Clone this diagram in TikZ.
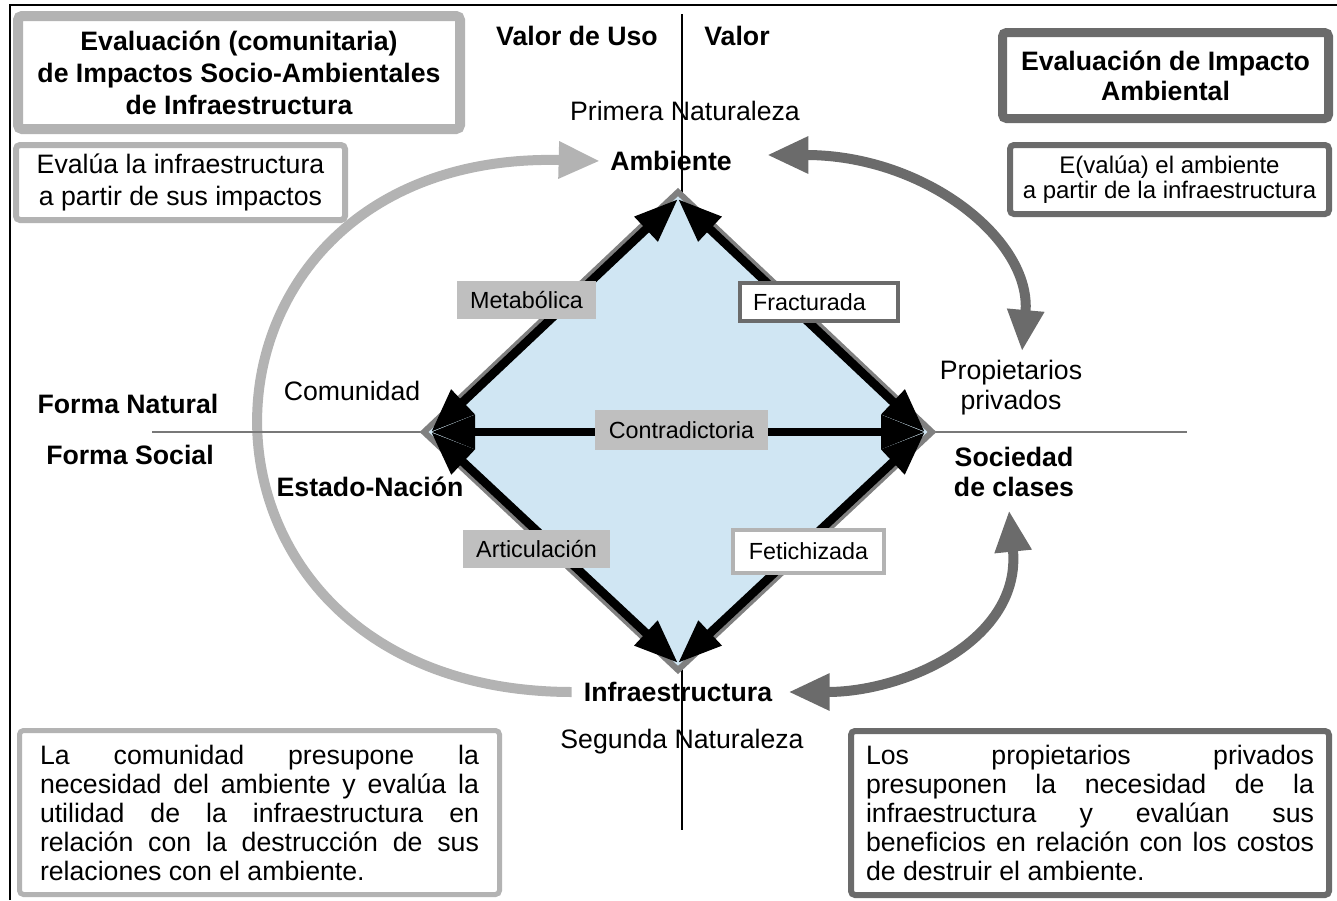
\documentclass[tikz,border=0pt]{standalone}
\usepackage{fontspec}
\setmainfont{Liberation Sans}
\usetikzlibrary{arrows.meta,calc}
\definecolor{lgray}{HTML}{B3B3B3}
\definecolor{dgray}{HTML}{6B6B6B}
\definecolor{lblgray}{HTML}{BFBFBF}
\definecolor{dfill}{HTML}{D0E6F3}
\definecolor{dborder}{HTML}{808080}
\definecolor{axgray}{HTML}{787878}
\hyphenpenalty=10000\relax
\hbadness=10000\relax
\begin{document}
\begin{tikzpicture}[x=0.75pt,y=-0.75pt,
  txt/.style={inner sep=0pt, align=center, font=\fontsize{20}{22.5}\selectfont},
  btxt/.style={inner sep=0pt, align=center, font=\fontsize{20}{23}\selectfont\bfseries},
  lbl/.style={inner sep=0pt, font=\fontsize{17.5}{20}\selectfont},
  glbl/.style={lbl, fill=lblgray},
  wlbl/.style={lbl, fill=white, line width=3pt},
  dblarrow/.style={line width=6.5pt, black, {Triangle[length=33pt,width=24pt]}-{Triangle[length=33pt,width=24pt]}},
  larc/.style={line width=7.5pt, lgray, -{Triangle[length=31pt,width=26pt]}},
  rarc/.style={line width=7.5pt, dgray, {Triangle[length=31pt,width=26pt]}-{Triangle[length=31pt,width=26pt]}},
  boxstyle/.style={rounded corners=3pt, fill=white, inner sep=0pt, align=center},
  justbox/.style={boxstyle, align=justify, font=\fontsize{20}{21.75}\selectfont}
]
\useasboundingbox (0,0) rectangle (1337,900);
% frame
\draw[line width=1.1pt] (10,900) -- (10,5) -- (1337,5);

% text nodes
\node[btxt] (valuso) at (577,36) {Valor de Uso};
\node[btxt] (valor) at (737,36) {Valor};
\node[txt] (primera) at (685,111) {Primera Naturaleza};
\node[btxt] (amb) at (671,161) {Ambiente};
\node[txt] (comun) at (352,391) {Comunidad};
\node[btxt] (fnat) at (128,404) {Forma Natural};
\node[btxt] (fsoc) at (130,455) {Forma Social};
\node[btxt] (estado) at (370,487) {Estado-Nación};
\node[txt] (prop) at (1011,388) {Propietarios\\privados};
\node[btxt] (soc) at (1014,472) {Sociedad\\de clases};
\node[btxt] (infra) at (678,692) {Infraestructura};
\node[txt] (segunda) at (682,742) {Segunda Naturaleza};

% curved arrows
\draw[larc] ($(infra.west)+(-12,0)$) .. controls (150,691) and (158,150) .. ($(amb.west)+(-10,0)$);
\draw[rarc] ($(amb.east)+(35,-6)$) .. controls (925,155) and (1032,240) .. ($(prop.north)+(11,-9)$);
\draw[rarc] ($(soc.south)+(-5,13)$) .. controls (1022,640) and (905,692) .. ($(infra.east)+(16,0)$);

% axes
\draw[line width=1.1pt] (682,14) -- (682,830);
\draw[line width=1.1pt, axgray] (152,432) -- (1187,432);

% diamond
\coordinate (T) at (678,192);
\coordinate (L) at (424,432);
\coordinate (R) at (932,432);
\coordinate (B) at (678,670);
\draw[draw=dborder, fill=dfill, line width=4.5pt, line join=miter] (T) -- (R) -- (B) -- (L) -- cycle;
\coordinate (Ti) at (678,199);
\coordinate (Li) at (431,432);
\coordinate (Ri) at (925,432);
\coordinate (Bi) at (678,663);
\draw[dblarrow] (Li) -- (Ti);
\draw[dblarrow] (Ti) -- (Ri);
\draw[dblarrow] (Li) -- (Ri);
\draw[dblarrow] (Li) -- (Bi);
\draw[dblarrow] (Bi) -- (Ri);

% diamond labels
\node[glbl, minimum width=104.25pt, minimum height=28.5pt] (metab) at (526.5,300) {Metabólica};
\node[wlbl, draw=dgray, text width=99pt, inner xsep=9.75pt, minimum height=28.5pt, align=left] (fract) at (819,302) {Fracturada};
\node[glbl, minimum width=129.75pt, minimum height=30pt] (contra) at (681.5,430) {Contradictoria};
\node[glbl, minimum width=110.25pt, minimum height=28.5pt] (artic) at (536.5,549) {Articulación};
\node[wlbl, draw=lgray, minimum width=113.25pt, minimum height=32.25pt] (fetich) at (808.5,551.5) {Fetichizada};

% boxes
\node[boxstyle, draw=lgray, line width=7.5pt, minimum width=331.5pt, minimum height=84.75pt, font=\fontsize{20}{24}\selectfont\bfseries] (ltitle) at (239,72.5) {Evaluación (comunitaria)\\de Impactos Socio-Ambientales\\de Infraestructura};
\node[boxstyle, draw=lgray, line width=4.5pt, minimum width=246.75pt, minimum height=56.25pt, font=\fontsize{20}{24}\selectfont] (lsub) at (180.5,182.5) {Evalúa la infraestructura\\a partir de sus impactos};
\node[boxstyle, draw=dgray, line width=6.75pt, minimum width=244.5pt, minimum height=64.5pt, font=\fontsize{20}{22.5}\selectfont\bfseries] (rtitle) at (1165.5,75.5) {Evaluación de Impacto\\Ambiental};
\node[boxstyle, draw=dgray, line width=4.5pt, minimum width=239.25pt, minimum height=51.75pt, font=\fontsize{18}{18.75}\selectfont] (rsub) at (1169.5,179.5) {E(valúa) el ambiente\\a partir de la infraestructura};
\node[justbox, draw=lgray, line width=3.75pt, minimum width=360pt, minimum height=123pt, text width=329.25pt] (lbot) at (259.5,812.5) {La comunidad presupone la\linebreak necesidad del ambiente y evalúa la\linebreak utilidad de la infraestructura en\linebreak relación con la destrucción de sus\linebreak relaciones con el ambiente.};
\node[justbox, draw=dgray, line width=4.5pt, minimum width=358.5pt, minimum height=123pt, text width=336pt] (rbot) at (1090,813) {Los propietarios privados\linebreak presuponen la necesidad de la\linebreak infraestructura y evalúan sus\linebreak beneficios en relación con los costos\linebreak de destruir el ambiente.};
\end{tikzpicture}
\end{document}
